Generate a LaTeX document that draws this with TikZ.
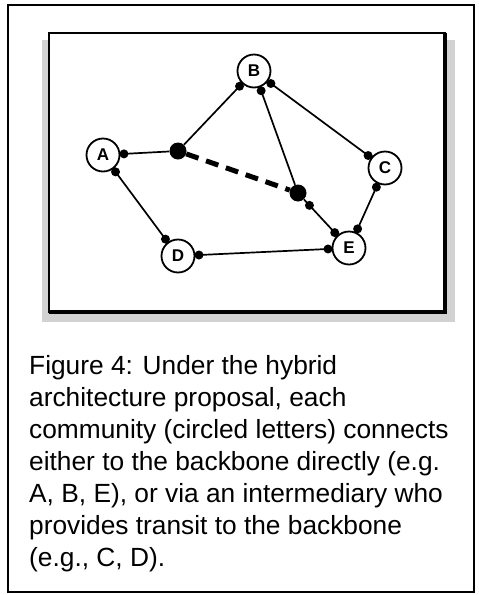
\documentclass[tikz,border=0pt]{standalone}
\usepackage{fontspec}
\setmainfont{Liberation Sans}
\usetikzlibrary{calc}
\tikzset{
  community/.style={circle,draw,line width=1.8pt,fill=white,minimum size=33pt,inner sep=0pt,outer sep=4.5pt,font=\fontsize{17}{17}\selectfont\bfseries},
  backbone/.style={circle,fill=black,minimum size=17pt,inner sep=0pt},
  link/.style={line width=1.7pt},
  tap/.style={circle,fill=black,minimum size=9pt,inner sep=0pt},
  trunk/.style={line width=5pt,dash pattern=on 13pt off 8pt}
}

\begin{document}
\begin{tikzpicture}[x=1pt,y=-1pt]
  \useasboundingbox (0,0) rectangle (479,595);
  % frame and shadowed panel
  \draw[line width=1.5pt] (8,5) rectangle (474,592);
  \fill[gray!35] (42,40) rectangle (455,322);
  \fill[white] (49,33) rectangle (445,312);
  \draw[line width=2pt] (49,33) rectangle (445,312);
  \draw[line width=4.5pt] (49,312) -- (445,312) -- (445,33);
  % communities
  \node[community] (A) at (103,155) {A};
  \node[community] (B) at (254,71) {B};
  \node[community] (C) at (385,168) {C};
  \node[community] (D) at (178,256) {D};
  \node[community] (E) at (349,248) {E};
  % backbone points
  \node[backbone] (P1) at (178,151) {};
  \node[backbone] (P2) at (298,193) {};
  % links
  \draw[link] (A) -- node[tap,pos=0]{} (P1);
  \draw[link] (P1) -- node[tap,pos=1]{} (B);
  \draw[link] (B) -- node[tap,pos=0]{} (P2);
  \draw[link] (B) -- node[tap,pos=0]{} node[tap,pos=1]{} (C);
  \draw[link] (C) -- node[tap,pos=0]{} node[tap,pos=1]{} (E);
  \draw[link] (P2) -- node[tap,pos=.18]{} node[tap,pos=1]{} (E);
  \draw[link] (D) -- node[tap,pos=0]{} node[tap,pos=1]{} (E);
  \draw[link] (A) -- node[tap,pos=0]{} node[tap,pos=1]{} (D);
  \draw[trunk] (P1) -- (P2);
  % caption
  \node[anchor=north west,inner sep=0pt,align=left,font=\fontsize{26.3}{32}\selectfont] (cap) at (29,355)
    {Figure 4: Under the hybrid\\architecture proposal, each\\community (circled letters) connects\\either to the backbone directly (e.g.\\A, B, E), or via an intermediary who\\provides transit to the backbone\\(e.g., C, D).};
\end{tikzpicture}
\end{document}
